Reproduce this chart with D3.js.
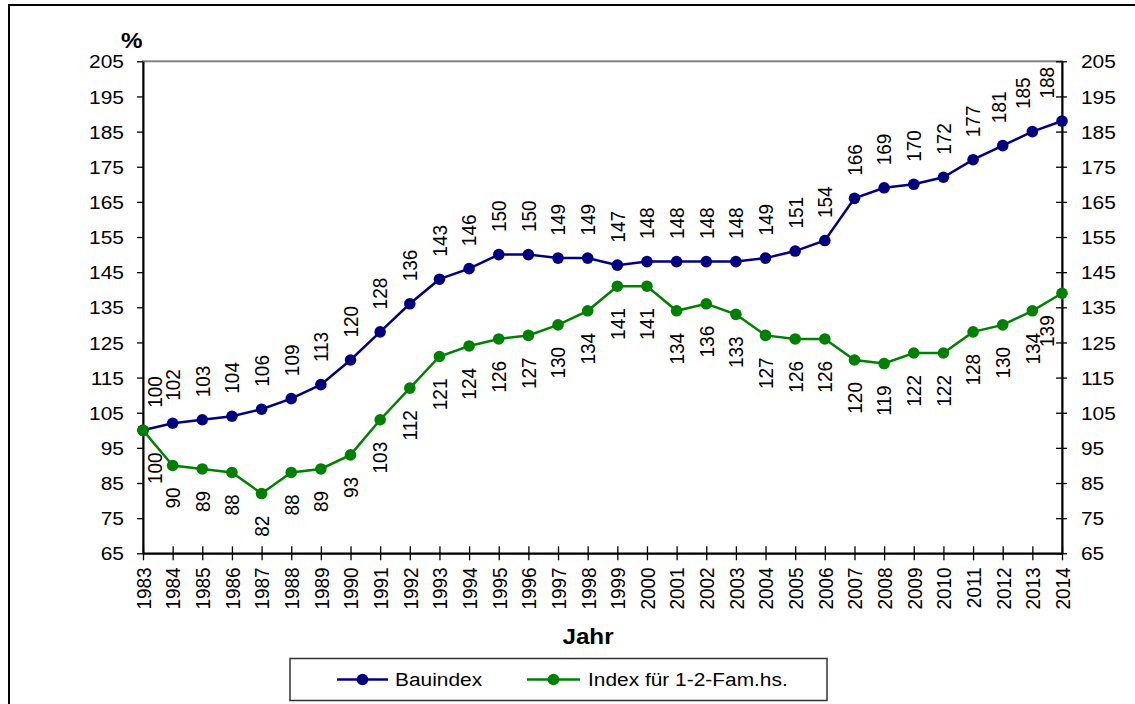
<!DOCTYPE html>
<html>
<head>
<meta charset="utf-8">
<script src="https://cdn.jsdelivr.net/npm/d3@7/dist/d3.min.js"></script>
<style>
  html, body { margin: 0; padding: 0; background: #fff; }
  svg { display: block; font-family: "Liberation Sans", Arial, sans-serif; }
</style>
</head>
<body>
<svg id="chart" width="1135" height="704"></svg>
<script>
// Years on the category axis
const years = d3.range(1983, 2015).map(String);

// Construction price index (1983 = 100)
const bauindex = [100, 102, 103, 104, 106, 109, 113, 120, 128, 136, 143, 146, 150, 150, 149, 149,
                  147, 148, 148, 148, 148, 149, 151, 154, 166, 169, 170, 172, 177, 181, 185, 188];

// Index for one- and two-family houses (1983 = 100)
const famIndex = [100, 90, 89, 88, 82, 88, 89, 93, 103, 112, 121, 124, 126, 127, 130, 134,
                  141, 141, 134, 136, 133, 127, 126, 126, 120, 119, 122, 122, 128, 130, 134, 139];

// Value axis ticks
const yTicks = d3.range(65, 206, 10);

const seriesNames = ["Bauindex", "Index für 1-2-Fam.hs."];
const seriesColors = ["#000080", "#008000"];

const svg = d3.select("#chart");
const W = 1135, H = 704;
const plot = { left: 143, right: 1062, top: 61.3, bottom: 553.3 };
const FS = 19;       // base font size
const SX = 1.1;      // horizontal text stretch

// outer frame (runs past the right and bottom edges of the page)
svg.append("rect")
  .attr("x", 9).attr("y", 5).attr("width", W + 20).attr("height", H + 20)
  .attr("fill", "#fff").attr("stroke", "#000").attr("stroke-width", 2);

const x = d3.scalePoint().domain(years).range([plot.left, plot.right]);
const y = d3.scaleLinear().domain([65, 205]).range([plot.bottom, plot.top]);

function tf(px, py, rot) {
  return `translate(${px},${py}) scale(${SX},1)` + (rot ? ` rotate(${rot})` : "");
}

// plot area border (grey)
svg.append("rect")
  .attr("x", plot.left).attr("y", plot.top)
  .attr("width", plot.right - plot.left).attr("height", plot.bottom - plot.top)
  .attr("fill", "none").attr("stroke", "#808080").attr("stroke-width", 2);

// left axis
const gl = svg.append("g").attr("transform", `translate(${plot.left},0)`)
  .call(d3.axisLeft(y).tickValues(yTicks).tickSize(6).tickSizeOuter(0).tickFormat(d3.format("d")));
// right axis (ticks cross the axis)
const gr = svg.append("g").attr("transform", `translate(${plot.right},0)`)
  .call(d3.axisRight(y).tickValues(yTicks).tickSize(5).tickSizeOuter(0).tickFormat(d3.format("d")));
gr.selectAll(".tick line").attr("x1", -6);
// bottom axis (ticks cross the axis)
const gb = svg.append("g").attr("transform", `translate(0,${plot.bottom})`)
  .call(d3.axisBottom(x).tickSize(7).tickSizeOuter(0));
gb.selectAll(".tick line").attr("y1", -7);

[gl, gr, gb].forEach(g => {
  g.attr("font-family", null).attr("font-size", null);
  g.select(".domain").attr("stroke", "#000").attr("stroke-width", 2);
  g.selectAll(".tick line").attr("stroke", "#000").attr("stroke-width", 1.3);
  g.selectAll(".tick text").attr("fill", "#000").style("font-size", FS + "px");
});

gl.selectAll(".tick text")
  .attr("x", null).attr("dy", null)
  .attr("text-anchor", "end").attr("dominant-baseline", "central")
  .attr("transform", tf(-19, 0));
gr.selectAll(".tick text")
  .attr("x", null).attr("dy", null)
  .attr("text-anchor", "start").attr("dominant-baseline", "central")
  .attr("transform", tf(19, 0));
gb.selectAll(".tick text")
  .attr("y", null).attr("dy", null)
  .attr("text-anchor", "end").attr("dominant-baseline", "central")
  .attr("transform", tf(0, 14, -90));

// axis titles
svg.append("text").attr("transform", tf(121, 48))
  .attr("font-weight", "bold").style("font-size", "22px").text("%");
svg.append("text").attr("transform", tf(588, 644))
  .attr("text-anchor", "middle").attr("font-weight", "bold").style("font-size", "22px").text("Jahr");

// series
const series = [bauindex, famIndex];
const line = d3.line().x((d, i) => x(years[i])).y(d => y(d));

series.forEach((vals, s) => {
  const g = svg.append("g");
  g.append("path").datum(vals)
    .attr("d", line).attr("fill", "none")
    .attr("stroke", seriesColors[s]).attr("stroke-width", 2.5);
  g.selectAll("circle").data(vals).join("circle")
    .attr("cx", (d, i) => x(years[i])).attr("cy", d => y(d))
    .attr("r", 5.8).attr("fill", seriesColors[s]);
});

// value labels: above for Bauindex, below for the family-house index.
// Labels are kept inside the plot; upper labels that would collide with
// their right neighbour are nudged left.
const LMIN = plot.left + 12, LMAX = plot.right - 15, LGAP = 24, LLEN = 33;
function labelLayout(vals, above) {
  const off = above ? 22.5 : 22;
  const pos = vals.map((d, i) => ({
    v: d,
    x: Math.max(LMIN, Math.min(LMAX, x(years[i]))),
    y: above ? y(d) - off : y(d) + off
  }));
  if (above) {
    for (let i = pos.length - 2; i >= 0; i--) {
      const a = pos[i], b = pos[i + 1];
      const vOverlap = Math.abs(a.y - b.y) < LLEN;
      if (vOverlap && b.x - a.x < LGAP) a.x = Math.max(LMIN, b.x - LGAP);
    }
  }
  return pos;
}
series.forEach((vals, s) => {
  const above = s === 0;
  svg.append("g").selectAll("text").data(labelLayout(vals, above)).join("text")
    .attr("transform", p => tf(p.x, p.y, -90))
    .attr("text-anchor", above ? "start" : "end")
    .attr("dominant-baseline", "central")
    .style("font-size", FS + "px").attr("fill", "#000")
    .text(p => p.v);
});

// legend
const lg = svg.append("g");
lg.append("rect").attr("x", 290).attr("y", 658.5).attr("width", 537).attr("height", 42)
  .attr("fill", "#fff").attr("stroke", "#333").attr("stroke-width", 1.5);
const legendItems = [
  { x1: 337, x2: 388, tx: 395 },
  { x1: 527, x2: 580, tx: 588 }
];
legendItems.forEach((it, s) => {
  const ly = 679.5;
  lg.append("line").attr("x1", it.x1).attr("x2", it.x2).attr("y1", ly).attr("y2", ly)
    .attr("stroke", seriesColors[s]).attr("stroke-width", 2.5);
  lg.append("circle").attr("cx", (it.x1 + it.x2) / 2).attr("cy", ly).attr("r", 5.8)
    .attr("fill", seriesColors[s]);
  lg.append("text").attr("transform", tf(it.tx, ly)).attr("dominant-baseline", "central")
    .style("font-size", FS + "px").attr("fill", "#000").text(seriesNames[s]);
});
</script>
</body>
</html>
